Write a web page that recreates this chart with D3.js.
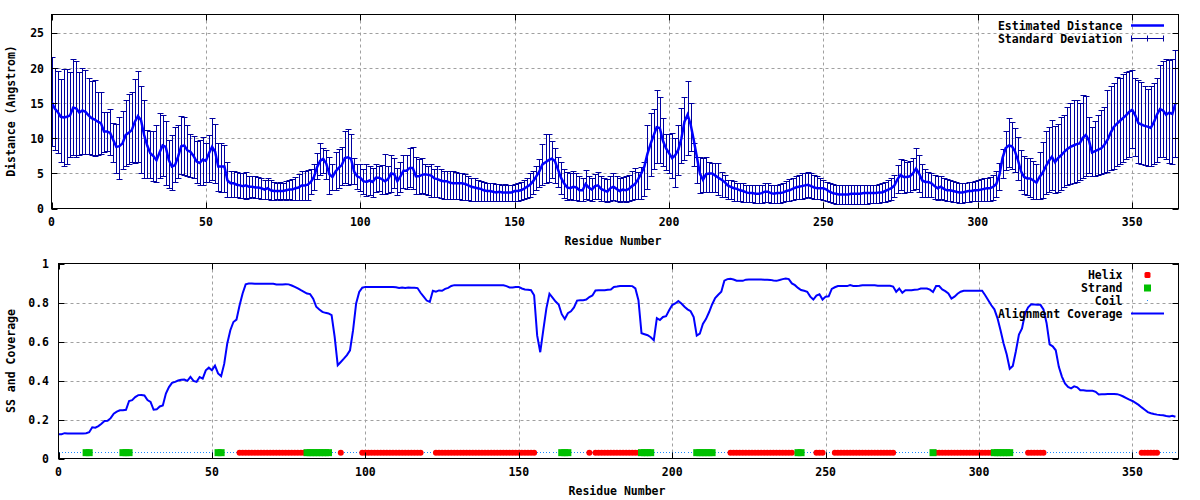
<!DOCTYPE html>
<html><head><meta charset="utf-8">
<script src="https://cdn.jsdelivr.net/npm/d3@7"></script>
<style>
body{margin:0;background:#fff;}
svg text{font-family:"DejaVu Sans Mono",monospace;font-weight:bold;font-size:11.5px;fill:#000;}
</style></head>
<body><svg id="c" width="1200" height="500"></svg>
<script>
// ---------- DATA ----------
const residueTicks = [0,50,100,150,200,250,300,350];
const distTicks = [0,5,10,15,20,25];
const covTicks = [0,0.2,0.4,0.6,0.8,1];
const covTickLabels = ["0","0.2","0.4","0.6","0.8","1"];

// Estimated distance per residue (0..364)
const distMean = [
15.3,14.3,13.8,13.1,13.0,13.1,13.3,14.4,14.3,13.7,
14.0,13.8,13.3,12.9,12.7,12.4,12.2,11.0,11.0,10.8,
9.8,8.8,8.9,9.3,10.5,10.8,11.2,12.4,13.2,12.6,
10.5,9.0,7.9,7.5,6.9,8.0,9.0,8.8,6.9,6.0,
6.2,7.4,8.9,9.0,8.3,8.1,7.5,6.7,6.5,7.0,
6.8,7.9,8.8,8.1,6.0,6.0,6.0,4.0,3.6,3.6,
3.4,3.3,3.2,3.3,3.1,3.1,3.0,3.0,2.9,2.7,
2.9,2.6,2.5,2.5,2.5,2.5,2.6,2.7,2.7,2.9,
3.0,3.3,3.3,3.4,3.8,4.5,5.9,6.8,7.1,6.4,
4.9,4.5,5.3,5.8,6.2,7.2,7.3,7.1,5.3,4.6,
4.4,3.9,3.8,4.0,3.8,4.4,4.4,4.2,3.9,4.2,
5.0,4.9,3.9,4.6,5.4,5.4,5.8,5.8,4.6,4.6,
4.8,4.9,4.8,4.7,4.3,4.2,4.0,3.9,3.9,3.7,
3.6,3.6,3.6,3.6,3.5,3.3,3.1,3.0,2.9,2.8,
2.6,2.5,2.5,2.4,2.3,2.4,2.3,2.3,2.3,2.3,
2.5,2.5,2.6,2.8,3.1,3.4,3.9,4.6,5.3,6.3,
6.6,6.9,7.1,6.8,5.6,4.4,3.6,3.0,2.9,3.1,
3.0,2.6,2.6,3.5,3.0,2.7,3.2,3.3,2.8,2.6,
2.4,2.9,3.1,2.8,2.5,2.7,2.6,2.8,3.2,3.5,
4.2,5.0,6.0,7.8,9.2,10.4,11.6,11.5,9.7,8.6,
7.9,7.2,7.6,8.4,10.0,12.4,13.4,12.0,9.8,7.4,
5.0,4.1,4.9,5.0,5.0,4.7,4.4,4.1,3.8,3.3,
3.1,2.9,2.8,2.6,2.5,2.3,2.2,2.2,2.1,2.1,
2.2,2.4,2.4,2.2,2.1,2.2,2.2,2.3,2.5,2.6,
2.8,3.0,3.1,3.2,3.3,3.4,3.2,3.0,2.9,2.9,
2.9,2.7,2.4,2.2,2.1,2.0,2.0,2.0,2.0,2.1,
2.1,2.1,2.1,2.2,2.2,2.2,2.2,2.2,2.3,2.3,
2.5,2.7,2.9,3.3,4.2,4.8,4.5,4.5,4.6,5.0,
5.7,5.0,4.0,3.8,3.8,3.6,3.2,2.9,3.1,2.8,
2.6,2.6,2.5,2.4,2.3,2.3,2.4,2.5,2.5,2.6,
2.6,2.7,2.8,2.9,2.9,3.1,3.5,4.8,7.2,8.6,
9.0,8.9,8.2,6.9,5.3,4.5,4.3,4.3,4.0,3.7,
4.5,5.1,6.0,6.8,7.4,6.6,7.2,7.6,8.1,8.5,
8.8,9.0,9.2,9.3,10.1,10.5,9.7,8.0,8.2,8.4,
8.6,9.1,9.8,10.8,11.6,12.1,12.5,12.9,13.3,13.8,
14.1,13.3,12.2,12.0,11.8,11.7,11.5,12.3,13.4,14.2,
14.0,13.4,13.7,13.5,15.0];

// Standard deviation bar: upper end per residue
const distHigh = [
21.7,20.0,19.7,18.5,19.9,19.9,19.5,21.3,21.0,19.5,
20.1,19.8,18.7,18.2,18.4,16.7,16.6,13.8,13.8,14.2,
12.2,12.0,13.1,13.9,15.5,16.4,16.6,18.5,19.7,17.5,
15.5,11.2,11.1,11.1,11.9,13.6,13.4,12.5,9.8,10.5,
11.7,11.9,13.2,13.1,11.9,10.6,10.3,9.6,9.8,10.2,
9.4,10.5,12.9,12.1,9.4,9.3,9.0,6.6,5.4,5.4,
5.2,5.1,5.0,5.2,4.7,4.6,4.6,4.5,4.4,4.1,
4.3,4.0,3.8,3.7,3.8,3.7,3.9,4.1,4.2,4.5,
4.9,5.3,5.4,5.5,5.6,6.4,7.9,9.4,8.6,8.4,
7.4,6.3,8.0,8.5,8.8,11.1,11.3,10.6,7.2,6.3,
6.3,5.7,6.3,6.0,5.8,6.3,6.0,6.2,7.8,6.0,
7.6,7.2,5.8,6.7,7.6,7.7,8.6,8.8,7.4,7.0,
7.2,6.4,6.1,6.3,5.7,6.0,5.6,5.3,5.4,5.3,
5.3,5.2,5.1,5.0,4.9,4.6,4.4,4.3,4.1,3.9,
3.8,3.7,3.6,3.7,3.5,3.5,3.4,3.5,3.4,3.4,
3.5,3.6,3.8,4.1,4.4,5.0,5.3,6.0,7.0,9.2,
10.7,10.7,9.7,8.6,7.4,6.6,5.6,5.2,5.0,5.3,
5.0,4.6,4.4,5.5,4.7,4.4,4.9,5.2,4.6,4.4,
4.2,4.7,5.0,4.6,4.3,4.5,4.6,4.8,5.3,5.8,
5.2,5.9,6.7,11.9,13.6,14.2,16.9,15.9,12.9,10.7,
10.7,10.8,10.0,11.9,14.3,15.9,18.2,15.0,9.3,7.4,
7.4,7.2,7.4,6.7,6.5,6.5,6.5,5.2,4.8,4.0,
4.0,3.9,3.7,3.6,3.6,3.4,3.4,3.4,3.3,3.3,
3.4,3.6,3.6,3.4,3.4,3.4,3.5,3.7,3.9,4.2,
4.4,4.6,4.8,5.0,5.1,5.2,5.0,4.8,4.6,4.3,
4.0,3.8,3.6,3.5,3.4,3.3,3.3,3.3,3.3,3.3,
3.3,3.3,3.3,3.4,3.4,3.4,3.4,3.4,3.5,3.6,
3.8,4.0,4.3,4.8,6.2,7.1,6.9,6.6,6.8,7.2,
8.6,7.6,6.4,5.7,5.2,5.0,4.8,4.6,4.7,4.4,
4.2,4.0,3.9,3.8,3.7,3.6,3.7,3.8,3.8,3.9,
4.0,4.2,4.3,4.4,4.5,4.8,5.3,6.5,8.5,11.0,
12.9,12.3,11.5,10.2,8.4,7.5,7.2,7.2,6.8,6.3,
8.0,9.5,11.0,11.7,12.6,11.8,12.1,13.0,13.3,14.5,
15.0,15.5,15.5,15.0,16.2,16.0,13.1,11.7,12.5,13.3,
14.0,14.5,16.9,17.5,17.9,18.8,18.6,19.2,19.5,19.6,
19.8,18.6,18.3,18.1,17.5,17.1,17.5,17.9,18.6,20.5,
21.0,21.4,21.2,21.3,22.7];

// Standard deviation bar: lower end per residue
const distLow = [
8.9,8.4,7.9,6.7,6.1,6.4,7.4,7.6,7.4,7.7,
7.8,7.8,7.8,7.6,7.5,7.6,7.8,8.1,8.2,7.6,
6.6,5.1,4.2,5.6,6.1,6.4,6.6,6.5,6.7,5.0,
4.4,4.3,4.3,3.9,3.8,4.3,4.7,3.4,2.9,2.7,
3.8,4.4,4.9,4.8,4.6,4.5,4.3,3.6,3.3,3.4,
3.8,3.8,4.0,3.6,2.5,2.4,2.4,1.7,1.6,1.6,
1.6,1.5,1.5,1.4,1.5,1.6,1.5,1.5,1.4,1.3,
1.4,1.2,1.2,1.3,1.2,1.3,1.2,1.3,1.2,1.2,
1.2,1.2,1.2,1.2,2.0,2.6,4.2,4.8,5.0,4.2,
2.1,2.6,2.7,2.9,3.4,3.6,3.4,3.5,3.5,2.8,
2.5,2.0,1.8,1.9,1.7,2.4,2.5,2.0,2.1,2.2,
2.4,2.9,1.9,2.4,2.9,2.8,3.0,2.8,2.0,2.0,
2.2,2.0,1.9,1.7,1.6,1.6,1.5,1.4,1.4,1.4,
1.3,1.3,1.3,1.2,1.2,1.2,1.1,1.1,1.1,1.1,
1.0,1.0,1.0,1.0,1.0,1.0,1.0,1.0,1.0,1.0,
1.1,1.1,1.2,1.4,1.5,1.7,2.0,2.7,3.0,3.4,
3.7,3.8,4.4,3.6,3.1,2.1,1.5,1.2,1.3,1.2,
1.2,1.1,1.0,1.3,1.2,1.0,1.3,1.3,1.1,1.0,
0.9,1.1,1.2,1.0,0.9,1.0,0.9,1.0,1.2,1.4,
1.3,1.4,1.8,2.8,4.6,5.6,6.5,6.5,6.0,5.5,
5.0,4.3,3.1,4.8,6.5,6.9,7.6,8.2,6.0,3.6,
2.2,2.3,2.4,2.4,2.4,2.3,1.9,1.7,1.6,1.4,
1.3,1.1,1.0,1.0,0.9,0.9,0.9,0.9,0.8,0.8,
0.8,0.9,0.9,0.8,0.8,0.8,0.8,0.9,1.0,1.1,
1.2,1.3,1.4,1.4,1.5,1.6,1.5,1.4,1.3,1.4,
1.2,1.0,0.9,0.8,0.7,0.7,0.7,0.7,0.7,0.7,
0.7,0.7,0.7,0.7,0.7,0.8,0.8,0.8,0.8,0.9,
0.9,1.0,1.2,1.6,2.2,2.6,2.2,2.4,2.4,2.6,
2.8,2.4,1.6,1.6,1.7,1.6,1.4,1.2,1.4,1.2,
1.0,1.0,0.9,0.9,0.8,0.8,0.9,0.9,1.0,1.0,
1.0,1.0,1.1,1.1,1.1,1.2,1.6,2.6,4.3,5.5,
5.9,5.6,5.2,4.0,2.6,2.1,1.9,1.6,1.4,1.3,
1.3,1.5,2.0,2.4,2.7,2.2,2.4,2.6,3.0,3.3,
3.5,3.7,3.8,4.0,4.3,4.7,5.0,4.6,4.6,4.8,
4.9,5.0,5.2,5.5,5.7,6.0,6.3,6.6,7.0,7.4,
8.6,7.5,6.5,6.3,6.2,6.1,6.0,6.3,6.6,7.3,
7.4,7.0,6.5,6.3,7.3];

// Alignment coverage per residue
const coverage = [
0.125,0.125,0.13,0.128,0.128,0.128,0.128,0.128,0.128,0.13,
0.135,0.16,0.158,0.166,0.178,0.192,0.193,0.207,0.23,0.24,
0.247,0.248,0.25,0.295,0.299,0.315,0.325,0.326,0.323,0.3,
0.29,0.25,0.252,0.267,0.272,0.333,0.366,0.388,0.393,0.4,
0.404,0.405,0.398,0.418,0.398,0.393,0.418,0.41,0.452,0.466,
0.453,0.476,0.436,0.422,0.485,0.59,0.658,0.7,0.712,0.785,
0.846,0.893,0.897,0.897,0.896,0.896,0.896,0.896,0.896,0.896,
0.896,0.892,0.892,0.892,0.894,0.893,0.887,0.88,0.872,0.863,
0.855,0.846,0.843,0.82,0.778,0.764,0.752,0.747,0.744,0.735,
0.624,0.478,0.495,0.512,0.53,0.555,0.658,0.795,0.854,0.876,
0.88,0.88,0.88,0.88,0.88,0.88,0.88,0.88,0.88,0.88,
0.878,0.875,0.877,0.875,0.877,0.876,0.876,0.874,0.85,0.83,
0.81,0.803,0.86,0.855,0.862,0.86,0.87,0.875,0.885,0.889,
0.889,0.889,0.889,0.889,0.889,0.889,0.889,0.889,0.889,0.889,
0.889,0.889,0.889,0.889,0.889,0.888,0.884,0.877,0.877,0.88,
0.88,0.872,0.867,0.865,0.863,0.837,0.63,0.545,0.66,0.77,
0.845,0.825,0.805,0.79,0.74,0.715,0.745,0.755,0.775,0.81,
0.812,0.812,0.815,0.828,0.836,0.862,0.863,0.863,0.863,0.865,
0.867,0.88,0.882,0.885,0.885,0.885,0.885,0.884,0.872,0.812,
0.642,0.637,0.632,0.622,0.607,0.72,0.71,0.726,0.73,0.76,
0.787,0.795,0.808,0.795,0.778,0.765,0.755,0.725,0.63,0.64,
0.69,0.715,0.75,0.79,0.823,0.84,0.855,0.912,0.92,0.922,
0.918,0.912,0.911,0.911,0.917,0.918,0.918,0.918,0.918,0.918,
0.917,0.917,0.916,0.913,0.911,0.915,0.92,0.923,0.92,0.898,
0.889,0.875,0.864,0.86,0.855,0.83,0.815,0.835,0.842,0.815,
0.83,0.832,0.87,0.878,0.884,0.884,0.884,0.884,0.889,0.885,
0.885,0.886,0.889,0.889,0.889,0.889,0.888,0.886,0.886,0.886,
0.886,0.886,0.882,0.855,0.872,0.85,0.863,0.863,0.863,0.865,
0.866,0.872,0.872,0.872,0.866,0.854,0.884,0.884,0.867,0.858,
0.846,0.82,0.83,0.845,0.855,0.86,0.86,0.86,0.86,0.86,
0.86,0.86,0.837,0.812,0.786,0.765,0.72,0.658,0.59,0.535,
0.46,0.475,0.55,0.635,0.667,0.744,0.775,0.791,0.79,0.789,
0.788,0.764,0.695,0.585,0.575,0.555,0.47,0.42,0.385,0.367,
0.36,0.37,0.365,0.35,0.35,0.347,0.347,0.347,0.342,0.328,
0.33,0.33,0.331,0.331,0.331,0.33,0.325,0.318,0.31,0.302,
0.295,0.285,0.275,0.262,0.25,0.238,0.232,0.228,0.225,0.223,
0.222,0.218,0.215,0.219,0.214];

// Secondary structure ranges (inclusive residue numbers); all others are coil
const helixRanges = [[59,80],[92,92],[99,118],[123,155],[173,173],[175,189],[219,239],[247,249],[253,272],[286,304],[316,321],[353,358]];
const strandRanges = [[9,10],[21,23],[52,53],[81,88],[164,166],[190,193],[208,213],[241,242],[285,285],[305,310]];
const ssLevel = 0.03;

// ---------- DRAW ----------
const svg = d3.select("#c");
const gridColor = "#a0a0a0";
const coilColor = "#1e8cff";
const residues = d3.range(distMean.length);

function panel(opts){
  const {x, y, xTicks, yTicks, yLabels, yLabelRight, xLabelY, xTitle, xTitleX, xTitleY, yTitle, yTitleY} = opts;
  const g = svg.append("g");
  const [x0,x1] = x.range(); const [y0,y1] = y.range();
  g.selectAll(".gx").data(xTicks.filter(t=>t>0)).join("line")
    .attr("x1",d=>Math.round(x(d))+0.5).attr("x2",d=>Math.round(x(d))+0.5)
    .attr("y1",y1).attr("y2",y0).attr("stroke",gridColor).attr("stroke-dasharray","3,3");
  g.selectAll(".gy").data(yTicks.filter(t=>t>0 && y(t)>y1+1)).join("line")
    .attr("y1",d=>Math.round(y(d))+0.5).attr("y2",d=>Math.round(y(d))+0.5)
    .attr("x1",x0).attr("x2",x1).attr("stroke",gridColor).attr("stroke-dasharray","3,3");
  g.selectAll(".tx").data(xTicks).join("text")
    .attr("x",d=>x(d)).attr("y",xLabelY).attr("dy","0.35em").attr("text-anchor","middle").text(d=>d);
  g.selectAll(".ty").data(yTicks).join("text")
    .attr("x",yLabelRight).attr("y",d=>y(d)).attr("dy","0.35em").attr("text-anchor","end")
    .text((d,i)=>yLabels ? yLabels[i] : d);
  g.append("text").attr("x",xTitleX).attr("y",xTitleY).attr("dy","0.35em").attr("text-anchor","middle").text(xTitle);
  g.append("text").attr("transform",`translate(11,${yTitleY}) rotate(-90)`).attr("dy","0.35em").attr("text-anchor","middle").text(yTitle);
  return g;
}
function frame(x,y,xTicks,yTicks){
  const g = svg.append("g");
  const [x0,x1] = x.range(); const [y0,y1] = y.range();
  const tl = 6;
  xTicks.forEach(t=>{
    const px = Math.round(x(t))+0.5;
    g.append("line").attr("x1",px).attr("x2",px).attr("y1",y0).attr("y2",y0-tl).attr("stroke","#000");
    g.append("line").attr("x1",px).attr("x2",px).attr("y1",y1).attr("y2",y1+tl).attr("stroke","#000");
  });
  yTicks.forEach(t=>{
    const py = Math.round(y(t))+0.5;
    g.append("line").attr("y1",py).attr("y2",py).attr("x1",x0).attr("x2",x0+tl).attr("stroke","#000");
    g.append("line").attr("y1",py).attr("y2",py).attr("x1",x1).attr("x2",x1-tl).attr("stroke","#000");
  });
  g.append("rect").attr("x",x0).attr("y",y1).attr("width",x1-x0).attr("height",y0-y1)
    .attr("fill","none").attr("stroke","#000");
}

// ----- top panel -----
const xT = d3.scaleLinear().domain([0,365]).range([51.5,1178.5]);
const yT = d3.scaleLinear().domain([0,27.71]).range([208.5,14.5]);
panel({x:xT,y:yT,xTicks:residueTicks,yTicks:distTicks,yLabelRight:44,xLabelY:221.5,
  xTitle:"Residue Number",xTitleX:613,xTitleY:241,yTitle:"Distance (Angstrom)",yTitleY:111});

svg.append("defs").append("clipPath").attr("id","clipT").append("rect")
  .attr("x",51.5).attr("y",14.5).attr("width",1127).attr("height",194);
const topG = svg.append("g").attr("clip-path","url(#clipT)");
const ebColor = "#0000a0";
const eb = topG.append("g").attr("stroke",ebColor).attr("stroke-width",1);
residues.forEach(i=>{
  const px = Math.round(xT(i))+0.5;
  const yh = Math.round(yT(distHigh[i]))+0.5, yl = Math.round(yT(distLow[i]))+0.5;
  eb.append("line").attr("x1",px).attr("x2",px).attr("y1",yh).attr("y2",yl);
  eb.append("line").attr("x1",px-3).attr("x2",px+3).attr("y1",yh).attr("y2",yh);
  eb.append("line").attr("x1",px-3).attr("x2",px+3).attr("y1",yl).attr("y2",yl);
});
topG.append("path").datum(residues)
  .attr("d",d3.line().x(i=>xT(i)).y(i=>yT(distMean[i])))
  .attr("fill","none").attr("stroke","#0000ff").attr("stroke-width",2.5);
frame(xT,yT,residueTicks,distTicks);

const lgT = svg.append("g");
lgT.append("text").attr("x",1122.5).attr("y",25.5).attr("dy","0.35em").attr("text-anchor","end").text("Estimated Distance");
lgT.append("text").attr("x",1122.5).attr("y",38.5).attr("dy","0.35em").attr("text-anchor","end").text("Standard Deviation");
lgT.append("line").attr("x1",1131).attr("x2",1164).attr("y1",25.5).attr("y2",25.5).attr("stroke","#0000ff").attr("stroke-width",2.5);
[[1131,1164,38.5,38.5],[1131.5,1131.5,35.5,41.5],[1163.5,1163.5,35.5,41.5],[1147.5,1147.5,35.5,41.5]].forEach(s=>{
  lgT.append("line").attr("x1",s[0]).attr("x2",s[1]).attr("y1",s[2]).attr("y2",s[3]).attr("stroke",ebColor);
});

// ----- bottom panel -----
const xB = d3.scaleLinear().domain([0,365]).range([58.5,1178.5]);
const yB = d3.scaleLinear().domain([0,1]).range([458.5,263.5]);
panel({x:xB,y:yB,xTicks:residueTicks,yTicks:covTicks,yLabels:covTickLabels,yLabelRight:49,xLabelY:471.5,
  xTitle:"Residue Number",xTitleX:617,xTitleY:491,yTitle:"SS and Coverage",yTitleY:361});

function inRanges(i,ranges){ return ranges.some(r=>i>=r[0]&&i<=r[1]); }
const ssType = residues.map(i=> inRanges(i,helixRanges) ? "H" : (inRanges(i,strandRanges) ? "E" : "C"));
const botG = svg.append("g");
botG.selectAll(".coil").data(residues.filter(i=>ssType[i]==="C")).join("rect")
  .attr("x",i=>Math.round(xB(i))).attr("y",Math.round(yB(ssLevel))-1).attr("width",1).attr("height",1)
  .attr("fill",coilColor).attr("shape-rendering","crispEdges");
botG.selectAll(".helix").data(residues.filter(i=>ssType[i]==="H")).join("circle")
  .attr("cx",i=>xB(i)).attr("cy",yB(ssLevel)).attr("r",3).attr("fill","#ff0000");
botG.selectAll(".strand").data(residues.filter(i=>ssType[i]==="E")).join("rect")
  .attr("x",i=>xB(i)-3.5).attr("y",yB(ssLevel)-3.5).attr("width",7).attr("height",7).attr("fill","#00c000");
botG.append("path").datum(residues)
  .attr("d",d3.line().x(i=>xB(i)).y(i=>yB(coverage[i])))
  .attr("fill","none").attr("stroke","#0000ff").attr("stroke-width",2);
frame(xB,yB,residueTicks,covTicks);

const lgB = svg.append("g");
const lgRows = [["Helix",275],["Strand",288],["Coil",301],["Alignment Coverage",314]];
lgRows.forEach(r=>lgB.append("text").attr("x",1122.5).attr("y",r[1]).attr("dy","0.35em").attr("text-anchor","end").text(r[0]));
lgB.append("rect").attr("x",1144.5).attr("y",272).attr("width",6).attr("height",6).attr("rx",1.5).attr("fill","#ff0000");
lgB.append("rect").attr("x",1144).attr("y",284.5).attr("width",7).attr("height",7).attr("fill","#00c000");
lgB.append("rect").attr("x",1147).attr("y",300).attr("width",1).attr("height",1).attr("fill",coilColor).attr("shape-rendering","crispEdges");
lgB.append("line").attr("x1",1131).attr("x2",1164).attr("y1",313.5).attr("y2",313.5).attr("stroke","#0000ff").attr("stroke-width",2);
</script></body></html>
